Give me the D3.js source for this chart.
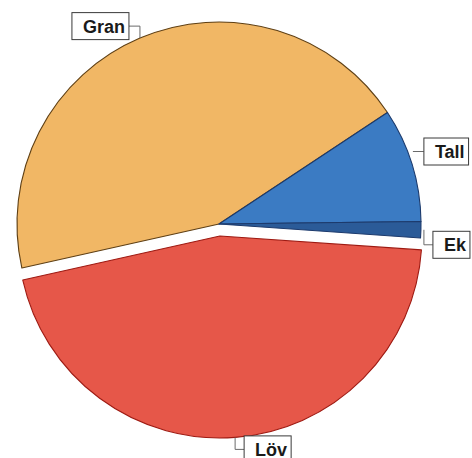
<!DOCTYPE html>
<html>
<head>
<meta charset="utf-8">
<script src="https://cdn.jsdelivr.net/npm/d3@7"></script>
<style>
  body { margin: 0; background: #fff; }
  text { font-family: "Liberation Sans", Arial, sans-serif; font-weight: bold; }
</style>
</head>
<body>
<svg id="chart"></svg>
<script>
// Data (percent shares)
const names = ["Gran", "Tall", "Ek", "Löv"];
const shares = [44.2, 9.1, 1.3, 45.4];
const fills = ["#f1b765", "#3b7bc3", "#2b5b98", "#e65749"];
const edges = ["#5e3f14", "#1c3a6c", "#1c3a6c", "#9e1a12"];

// Dimensions
const width = 472, height = 458;
const cx = 219, cy = 224, radius = 202;
const explode = { "Löv": 12 };
const deg = Math.PI / 180;
const start = -102.6 * deg;

// label leader settings: angle shift, radial gap, leader bend
const leaders = {
    "Gran": { shift: 0, gap: 0, dy: -12, dx: -11 },
    "Tall": { shift: -3.4, gap: 5, dy: 0, dx: 11 },
    "Ek":   { shift: 0, gap: 3, dy: 15, dx: 9 },
    "Löv":  { shift: 0, gap: 0, dy: 12, dx: 9 }
};

const svg = d3.select("#chart")
    .attr("width", width)
    .attr("height", height);

const pie = d3.pie()
    .sort(null)
    .value(d => d.value)
    .startAngle(start)
    .endAngle(start + 2 * Math.PI);

const arcs = pie(names.map((n, i) => ({ name: n, value: shares[i], i: i })));

const arc = d3.arc().innerRadius(0).outerRadius(radius);

// offset of a slice's centre (exploded slices move along their mid angle)
function centre(d) {
    const a = (d.startAngle + d.endAngle) / 2;
    const e = explode[d.data.name] || 0;
    return [cx + e * Math.sin(a), cy - e * Math.cos(a)];
}

// Slices
svg.selectAll(".slice")
    .data(arcs)
    .enter()
    .append("path")
    .attr("class", "slice")
    .attr("transform", d => `translate(${centre(d)})`)
    .attr("d", arc)
    .attr("fill", d => fills[d.data.i])
    .attr("stroke", d => edges[d.data.i])
    .attr("stroke-width", 1.1)
    .attr("stroke-linejoin", "round");

// Labels
const fontSize = 18, boxH = 27, padL = 11, padR = 4;

arcs.forEach(d => {
    const L = leaders[d.data.name];
    const c = centre(d);
    const a = (d.startAngle + d.endAngle) / 2 + L.shift * deg;
    const r = radius + L.gap;
    const px = c[0] + r * Math.sin(a), py = c[1] - r * Math.cos(a);
    const ey = py + L.dy, ex = px + L.dx;

    svg.append("path")
        .attr("d", `M${px},${py}V${ey}H${ex}`)
        .attr("fill", "none")
        .attr("stroke", "#6a6a6a")
        .attr("stroke-width", 1);

    const g = svg.append("g");
    const t = g.append("text")
        .attr("font-size", fontSize)
        .attr("fill", "#1a1a1a")
        .text(d.data.name);
    const tw = t.node().getComputedTextLength();
    const bw = tw + padL + padR;
    const bx = L.dx < 0 ? ex - bw : ex;
    const by = ey - boxH / 2;

    g.insert("rect", "text")
        .attr("x", bx)
        .attr("y", by)
        .attr("width", bw)
        .attr("height", boxH)
        .attr("fill", "#fff")
        .attr("stroke", "#3a3a3a")
        .attr("stroke-width", 1);

    t.attr("x", bx + padL).attr("y", ey + 6.5);
});
</script>
</body>
</html>
